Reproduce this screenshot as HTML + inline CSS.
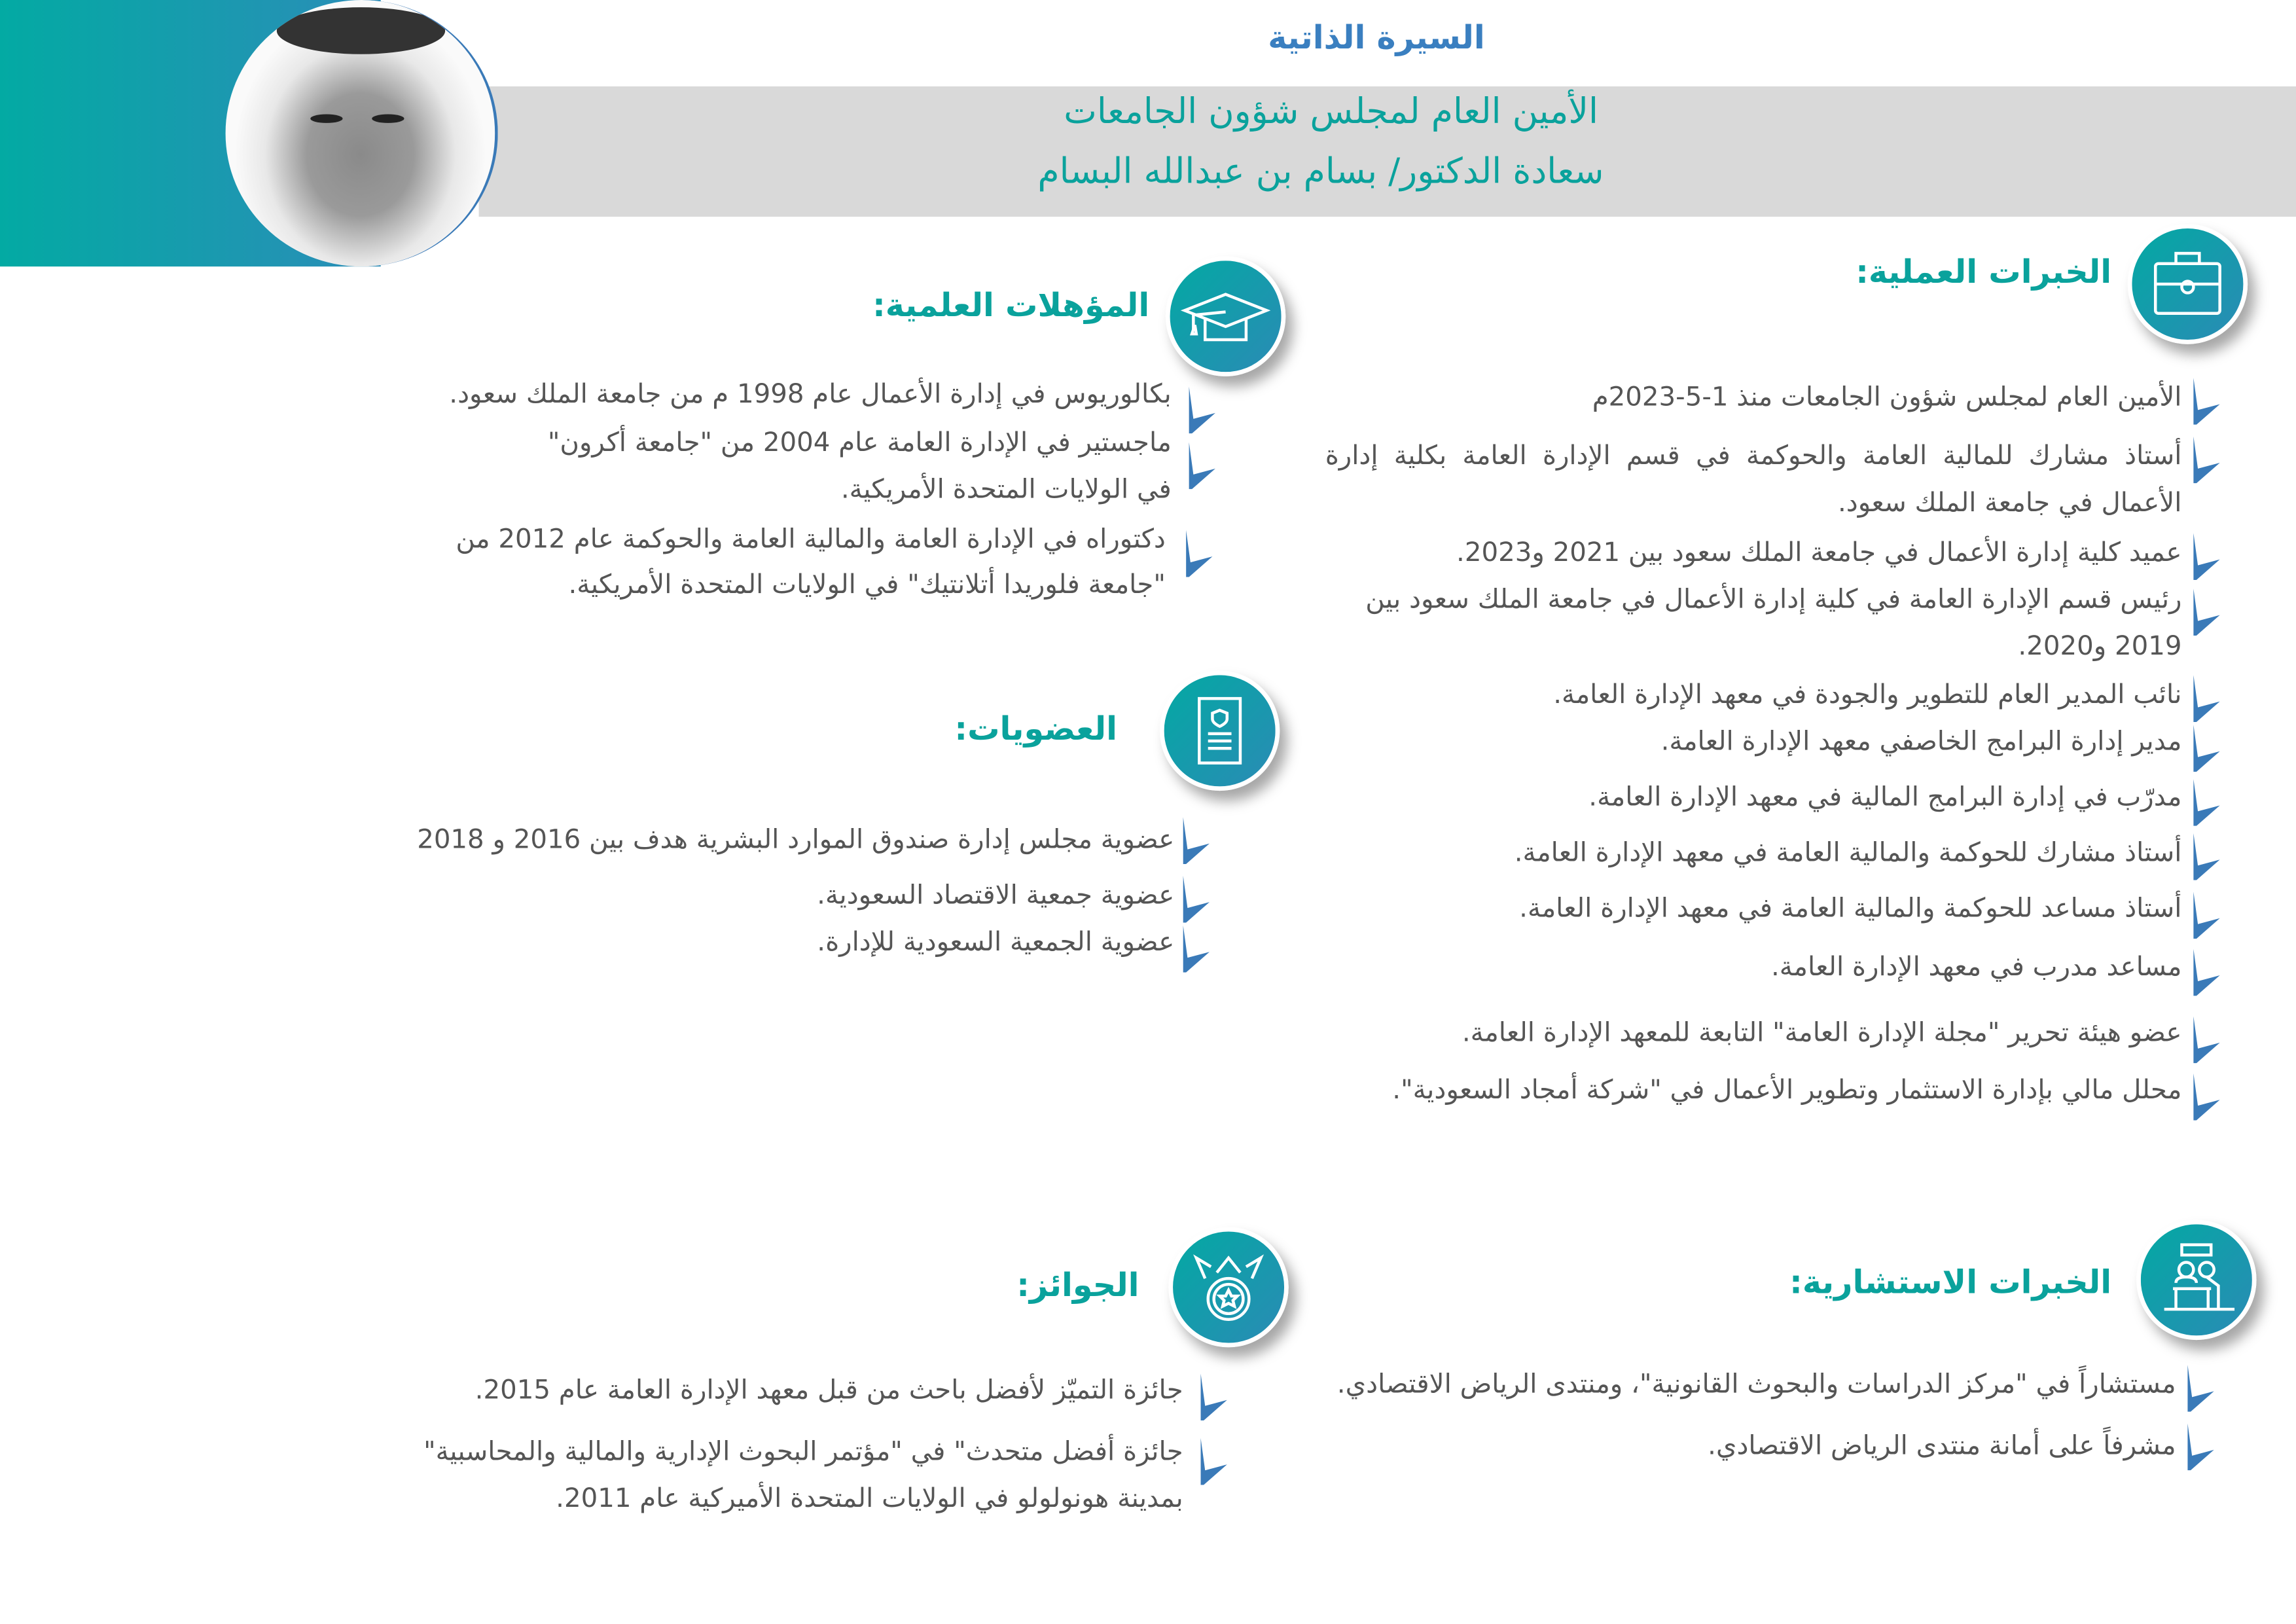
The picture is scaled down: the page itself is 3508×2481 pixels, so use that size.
<!DOCTYPE html>
<html><head><meta charset="utf-8">
<style>
html,body{margin:0;padding:0;background:#fff;}
body{width:3508px;height:2480px;overflow:hidden;position:relative;}
#w{position:absolute;left:0;top:0;width:1568px;height:1109px;transform:scale(2.23724);transform-origin:0 0;font-family:"DejaVu Sans",sans-serif;color:#555;}
.a{position:absolute;white-space:nowrap;direction:rtl;}
.t{font-size:18px;line-height:32px;}
.h{font-weight:bold;color:#0aa29c;font-size:22px;}
.b{position:absolute;width:22px;height:32px;}
.ic{position:absolute;width:76px;height:76px;border-radius:50%;background:linear-gradient(135deg,#03a9a3,#2a8bb5);border:3px solid #fff;box-shadow:5px 7px 9px rgba(0,0,0,.35);}
.ic svg{position:absolute;left:0;top:0;width:76px;height:76px;}
.j{white-space:normal;text-align:justify;text-align-last:right;}
</style></head><body><div id="w">
<div style="position:absolute;left:0;top:0;width:260px;height:182px;background:linear-gradient(90deg,#03aaa3,#2b8db8);"></div>
<div style="position:absolute;left:327px;top:59px;width:1241px;height:89px;background:#d9d9d9;"></div>
<div style="position:absolute;left:154px;top:0;width:184px;height:182px;border-radius:50%;background:radial-gradient(ellipse at 50% 58%,#8a8a8a 0,#9a9a9a 28%,#e8e8e8 50%,#fafafa 66%);border-right:2px solid #3a7ab8;overflow:hidden;">
<div style="position:absolute;left:35px;top:5px;width:115px;height:32px;border-radius:50%;background:#333;"></div>
<div style="position:absolute;left:58px;top:78px;width:22px;height:6px;background:#222;border-radius:50%"></div>
<div style="position:absolute;left:100px;top:78px;width:22px;height:6px;background:#222;border-radius:50%"></div>
</div>
<div class="a" style="left:0;width:1880px;top:14px;text-align:center;font-size:22px;font-weight:bold;color:#3a7fc0;">السيرة الذاتية</div>
<div class="a" style="left:0;width:1818px;top:62px;text-align:center;font-size:24px;color:#0aa29c;">الأمين العام لمجلس شؤون الجامعات</div>
<div class="a" style="left:0;width:1804px;top:103px;text-align:center;font-size:24px;color:#0aa29c;">سعادة الدكتور/ بسام بن عبدالله البسام</div>

<svg width="0" height="0" style="position:absolute"><defs><polygon id="bl" points="2,0 5,22 20,18 4,32 2,32" fill="#3a7ab8"/></defs></svg>

<div class="ic" style="left:1453px;top:153px;"><svg viewBox="0 0 76 76" fill="none" stroke="#fff" stroke-width="2"><rect x="16" y="24" width="44" height="34" rx="2"/><rect x="30" y="17" width="16" height="7"/><path d="M16 38h44"/><circle cx="38" cy="40" r="4"/></svg></div>
<div class="ic" style="left:796px;top:175px;"><svg viewBox="0 0 76 76" fill="none" stroke="#fff" stroke-width="2"><path d="M10 34l28-11 28 11-28 11z"/><path d="M24 39v15h28v-15"/><path d="M18 37l20-2"/><path d="M16 37v10"/><path d="M15 50h3l-1-6z"/></svg></div>
<div class="ic" style="left:792px;top:458px;"><svg viewBox="0 0 76 76" fill="none" stroke="#fff" stroke-width="2"><path d="M24 16h28v44H24z"/><path d="M30 40h16M30 45h16M30 50h16"/><path d="M38 24l5 2v4c0 3-5 5-5 5s-5-2-5-5v-4z"/></svg></div>
<div class="ic" style="left:1459px;top:833px;"><svg viewBox="0 0 76 76" fill="none" stroke="#fff" stroke-width="2"><rect x="28" y="14" width="20" height="7"/><circle cx="31" cy="31" r="5"/><circle cx="45" cy="31" r="5"/><path d="M22 44h26M24 44v14M46 44v14M16 58h48M24 40c0-3 3-4 7-4s7 1 7 4M45 36l8 6v16"/></svg></div>
<div class="ic" style="left:798px;top:838px;"><svg viewBox="0 0 76 76" fill="none" stroke="#fff" stroke-width="2"><circle cx="38" cy="46" r="14"/><circle cx="38" cy="46" r="10"/><path d="M22 32l-6-14 10 6M54 32l6-14-10 6M30 28l8-10 8 10"/><path d="M38 40l2 4h4l-3 3 1 4-4-2-4 2 1-4-3-3h4z"/></svg></div>

<div class="a h" style="right:126px;top:174px;">الخبرات العملية:</div>
<div class="a h" style="right:783px;top:197px;">المؤهلات العلمية:</div>
<div class="a h" style="right:805px;top:486px;">العضويات:</div>
<div class="a h" style="right:126px;top:864px;">الخبرات الاستشارية:</div>
<div class="a h" style="right:790px;top:866px;">الجوائز:</div>

<div class="a t" style="right:78px;top:256px;">الأمين العام لمجلس شؤون الجامعات منذ 1-5-2023م</div>
<div class="a t j" style="right:78px;top:296px;width:585px;">أستاذ مشارك للمالية العامة والحوكمة في قسم الإدارة العامة بكلية إدارة الأعمال في جامعة الملك سعود.</div>
<div class="a t" style="right:78px;top:362px;">عميد كلية إدارة الأعمال في جامعة الملك سعود بين 2021 و2023.</div>
<div class="a t" style="right:78px;top:394px;">رئيس قسم الإدارة العامة في كلية إدارة الأعمال في جامعة الملك سعود بين</div>
<div class="a t" style="right:78px;top:426px;">2019 و2020.</div>
<div class="a t" style="right:78px;top:459px;">نائب المدير العام للتطوير والجودة في معهد الإدارة العامة.</div>
<div class="a t" style="right:78px;top:491px;">مدير إدارة البرامج الخاصفي معهد الإدارة العامة.</div>
<div class="a t" style="right:78px;top:529px;">مدرّب في إدارة البرامج المالية في معهد الإدارة العامة.</div>
<div class="a t" style="right:78px;top:567px;">أستاذ مشارك للحوكمة والمالية العامة في معهد الإدارة العامة.</div>
<div class="a t" style="right:78px;top:605px;">أستاذ مساعد للحوكمة والمالية العامة في معهد الإدارة العامة.</div>
<div class="a t" style="right:78px;top:645px;">مساعد مدرب في معهد الإدارة العامة.</div>
<div class="a t" style="right:78px;top:690px;">عضو هيئة تحرير "مجلة الإدارة العامة" التابعة للمعهد الإدارة العامة.</div>
<div class="a t" style="right:78px;top:729px;">محلل مالي بإدارة الاستثمار وتطوير الأعمال في "شركة أمجاد السعودية".</div>

<svg class="b" style="left:1496px;top:258px" viewBox="0 0 22 32"><use href="#bl"/></svg>
<svg class="b" style="left:1496px;top:298px" viewBox="0 0 22 32"><use href="#bl"/></svg>
<svg class="b" style="left:1496px;top:364px" viewBox="0 0 22 32"><use href="#bl"/></svg>
<svg class="b" style="left:1496px;top:402px" viewBox="0 0 22 32"><use href="#bl"/></svg>
<svg class="b" style="left:1496px;top:461px" viewBox="0 0 22 32"><use href="#bl"/></svg>
<svg class="b" style="left:1496px;top:495px" viewBox="0 0 22 32"><use href="#bl"/></svg>
<svg class="b" style="left:1496px;top:532px" viewBox="0 0 22 32"><use href="#bl"/></svg>
<svg class="b" style="left:1496px;top:569px" viewBox="0 0 22 32"><use href="#bl"/></svg>
<svg class="b" style="left:1496px;top:609px" viewBox="0 0 22 32"><use href="#bl"/></svg>
<svg class="b" style="left:1496px;top:648px" viewBox="0 0 22 32"><use href="#bl"/></svg>
<svg class="b" style="left:1496px;top:694px" viewBox="0 0 22 32"><use href="#bl"/></svg>
<svg class="b" style="left:1496px;top:733px" viewBox="0 0 22 32"><use href="#bl"/></svg>

<div class="a t" style="right:768px;top:254px;">بكالوريوس في إدارة الأعمال عام 1998 م من جامعة الملك سعود.</div>
<div class="a t" style="right:768px;top:287px;">ماجستير في الإدارة العامة عام 2004 من "جامعة أكرون"</div>
<div class="a t" style="right:768px;top:319px;">في الولايات المتحدة الأمريكية.</div>
<div class="a t" style="right:772px;top:353px;">دكتوراه في الإدارة العامة والمالية العامة والحوكمة عام 2012 من</div>
<div class="a t" style="right:772px;top:384px;">"جامعة فلوريدا أتلانتيك" في الولايات المتحدة الأمريكية.</div>
<svg class="b" style="left:810px;top:264px" viewBox="0 0 22 32"><use href="#bl"/></svg>
<svg class="b" style="left:810px;top:302px" viewBox="0 0 22 32"><use href="#bl"/></svg>
<svg class="b" style="left:808px;top:362px" viewBox="0 0 22 32"><use href="#bl"/></svg>

<div class="a t" style="right:766px;top:558px;">عضوية مجلس إدارة صندوق الموارد البشرية هدف بين 2016 و 2018</div>
<div class="a t" style="right:766px;top:596px;">عضوية جمعية الاقتصاد السعودية.</div>
<div class="a t" style="right:766px;top:628px;">عضوية الجمعية السعودية للإدارة.</div>
<svg class="b" style="left:806px;top:558px" viewBox="0 0 22 32"><use href="#bl"/></svg>
<svg class="b" style="left:806px;top:598px" viewBox="0 0 22 32"><use href="#bl"/></svg>
<svg class="b" style="left:806px;top:632px" viewBox="0 0 22 32"><use href="#bl"/></svg>

<div class="a t" style="right:82px;top:930px;">مستشاراً في "مركز الدراسات والبحوث القانونية"، ومنتدى الرياض الاقتصادي.</div>
<div class="a t" style="right:82px;top:972px;">مشرفاً على أمانة منتدى الرياض الاقتصادي.</div>
<svg class="b" style="left:1492px;top:932px" viewBox="0 0 22 32"><use href="#bl"/></svg>
<svg class="b" style="left:1492px;top:972px" viewBox="0 0 22 32"><use href="#bl"/></svg>

<div class="a t" style="right:760px;top:934px;">جائزة التميّز لأفضل باحث من قبل معهد الإدارة العامة عام 2015.</div>
<div class="a t" style="right:760px;top:976px;">جائزة أفضل متحدث" في "مؤتمر البحوث الإدارية والمالية والمحاسبية"</div>
<div class="a t" style="right:760px;top:1008px;">بمدينة هونولولو في الولايات المتحدة الأميركية عام 2011.</div>
<svg class="b" style="left:818px;top:938px" viewBox="0 0 22 32"><use href="#bl"/></svg>
<svg class="b" style="left:818px;top:982px" viewBox="0 0 22 32"><use href="#bl"/></svg>
</div></body></html>
